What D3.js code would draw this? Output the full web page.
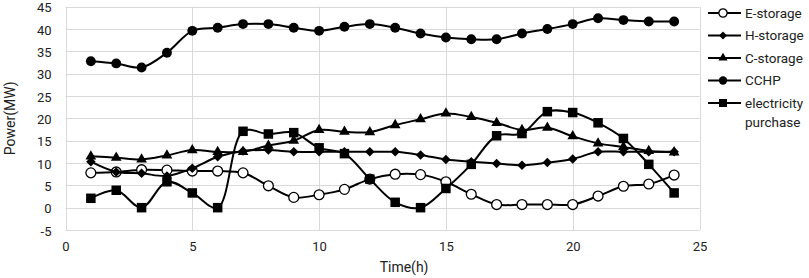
<!DOCTYPE html>
<html>
<head>
<meta charset="utf-8">
<script src="https://cdn.jsdelivr.net/npm/d3@7"></script>
<style>
  body { margin: 0; background: #fff; }
  svg text { font-family: Roboto, "Open Sans", sans-serif; fill: #222; }
</style>
</head>
<body>
<svg id="chart" width="809" height="278"></svg>
<script>
const hours = d3.range(1, 25);

const eStorage = [7.8, 8.0, 8.5, 8.4, 8.2, 8.2, 7.8, 4.9, 2.3, 2.9, 4.1, 6.4,
                  7.5, 7.4, 5.8, 3.0, 0.7, 0.7, 0.7, 0.7, 2.6, 4.8, 5.3, 7.3];
const hStorage = [10.3, 8.0, 7.7, 7.1, 8.8, 11.4, 12.7, 12.9, 12.5, 12.5, 12.5, 12.5,
                  12.5, 11.8, 10.8, 10.3, 9.9, 9.5, 10.1, 10.9, 12.5, 12.5, 12.5, 12.5];
const cStorage = [11.5, 11.2, 10.8, 11.7, 12.9, 12.5, 12.5, 13.9, 15.0, 17.4, 17.0, 16.9,
                  18.5, 19.8, 21.1, 20.3, 19.0, 17.4, 17.9, 16.0, 14.4, 13.6, 12.7, 12.4];
const cchp = [32.8, 32.3, 31.4, 34.7, 39.6, 40.3, 41.1, 41.1, 40.3, 39.6, 40.5, 41.1,
              40.3, 39.0, 38.1, 37.7, 37.7, 39.0, 40.0, 41.1, 42.4, 42.0, 41.7, 41.7];
const purchase = [2.1, 3.9, 0, 5.8, 3.3, 0, 17.1, 16.5, 16.8, 13.4, 12.1, 6.4,
                  1.2, 0, 4.3, 9.7, 16.1, 16.6, 21.5, 21.3, 19.0, 15.5, 9.7, 3.3];

const seriesNames = ["E-storage", "H-storage", "C-storage", "CCHP", "electricity purchase"];
const seriesValues = [eStorage, hStorage, cStorage, cchp, purchase];
const markerShapes = ["openCircle", "diamond", "triangle", "circle", "square"];

const xTicks = [0, 5, 10, 15, 20, 25];
const yTicks = d3.range(-5, 46, 5);

const svg = d3.select("#chart");
const margin = { left: 65.5, right: 109.5, top: 6.7, bottom: 48 };
const width = 809 - margin.left - margin.right;
const height = 278 - margin.top - margin.bottom;

const x = d3.scaleLinear().domain([0, 25]).range([margin.left, margin.left + width]);
const y = d3.scaleLinear().domain([-5, 45]).range([margin.top + height, margin.top]);

// gridlines
const grid = svg.append("g").attr("stroke", "#d9d9d9").attr("stroke-width", 1);
grid.selectAll(".hg").data(yTicks).enter().append("line")
    .attr("x1", x(0)).attr("x2", x(25))
    .attr("y1", (d) => Math.round(y(d)) + 0.5).attr("y2", (d) => Math.round(y(d)) + 0.5);
grid.selectAll(".vg").data(xTicks).enter().append("line")
    .attr("y1", y(-5)).attr("y2", y(45))
    .attr("x1", (d) => Math.round(x(d)) + 0.5).attr("x2", (d) => Math.round(x(d)) + 0.5);

// axes (labels only), plain hyphen for negatives like the original
const yAxis = svg.append("g")
    .attr("transform", "translate(" + (margin.left - 6) + ",0)")
    .call(d3.axisLeft(y).tickValues(yTicks).tickSize(0).tickPadding(8)
        .tickFormat((d) => String(d)));
const xAxis = svg.append("g")
    .attr("transform", "translate(0," + (y(-5) + 12) + ")")
    .call(d3.axisBottom(x).tickValues(xTicks).tickSize(0).tickPadding(0)
        .tickFormat((d) => String(d)));
[yAxis, xAxis].forEach((a) => {
    a.select(".domain").remove();
    a.selectAll("text").style("font-size", "13px").attr("fill", "#222");
});
yAxis.selectAll("text").attr("dy", "0.4em");

svg.append("text")
    .attr("transform", "translate(15," + (y(20)) + ") rotate(-90)")
    .attr("text-anchor", "middle")
    .style("font-size", "14px")
    .text("Power(MW)");
svg.append("text")
    .attr("x", x(13.35)).attr("y", 272)
    .attr("text-anchor", "middle")
    .style("font-size", "14px")
    .text("Time(h)");

function drawMarker(g, shape, size) {
    const s = size;
    if (shape === "openCircle") {
        g.append("circle").attr("r", s * 0.52).attr("fill", "#fff")
            .attr("stroke", "#000").attr("stroke-width", 1.3);
    } else if (shape === "circle") {
        g.append("circle").attr("r", s * 0.52).attr("fill", "#000");
    } else if (shape === "square") {
        g.append("rect").attr("x", -s / 2).attr("y", -s / 2)
            .attr("width", s).attr("height", s).attr("fill", "#000");
    } else if (shape === "triangle") {
        g.append("path").attr("d", d3.symbol(d3.symbolTriangle, s * s * 0.55)).attr("fill", "#000");
    } else if (shape === "diamond") {
        const h = s * 0.5;
        g.append("path").attr("d", "M0," + (-h) + "L" + h + ",0L0," + h + "L" + (-h) + ",0Z")
            .attr("fill", "#000");
    }
}

const line = d3.line()
    .x((d) => x(d[0]))
    .y((d) => y(d[1]))
    .curve(d3.curveCatmullRom.alpha(0.5));

seriesValues.forEach((vals, i) => {
    const pts = hours.map((h, j) => [h, vals[j]]);
    const g = svg.append("g").attr("class", "series");
    g.append("path")
        .attr("d", line(pts))
        .attr("fill", "none")
        .attr("stroke", "#000")
        .attr("stroke-width", 2);
    g.selectAll(".m").data(pts).enter().append("g")
        .attr("transform", (d) => "translate(" + x(d[0]) + "," + y(d[1]) + ")")
        .each(function () { drawMarker(d3.select(this), markerShapes[i], 9.5); });
});

// legend
const legend = svg.append("g");
const legendRows = [13, 35.5, 58, 80.5, 103];
seriesNames.forEach((name, i) => {
    const row = legend.append("g").attr("transform", "translate(0," + legendRows[i] + ")");
    row.append("line").attr("x1", 708).attr("x2", 741).attr("y1", 0).attr("y2", 0)
        .attr("stroke", "#000").attr("stroke-width", 2);
    const m = row.append("g").attr("transform", "translate(723,0)");
    drawMarker(m, markerShapes[i], 8);
    const words = name === "electricity purchase" ? ["electricity", "purchase"] : [name];
    words.forEach((w, k) => {
        row.append("text").attr("x", 745).attr("y", k * 19).attr("dy", "0.35em")
            .style("font-size", "13.5px").text(w);
    });
});
</script>
</body>
</html>
